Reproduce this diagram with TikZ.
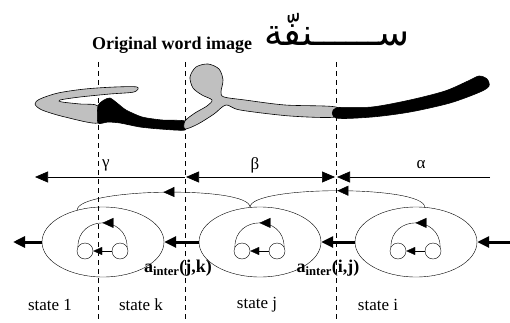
\documentclass[tikz,border=0pt]{standalone}
\usepackage{fontspec}
\setmainfont{Liberation Serif}
\newfontfamily\arabicfont[Script=Arabic]{DejaVu Sans}
\TeXXeTstate=1
\usetikzlibrary{arrows.meta,shapes.geometric,decorations.markings}
\usepackage{xcolor}
\definecolor{inkgray}{HTML}{C0C0C0}

\begin{document}
\begin{tikzpicture}[
  x=1pt, y=-1pt,
  stateell/.style={draw, ellipse, minimum width=122pt, minimum height=70pt, inner sep=0pt},
  loopc/.style={draw, circle, minimum size=16pt, inner sep=0pt},
  bound/.style={dash pattern=on 5pt off 4pt, line width=0.7pt},
  spanarr/.style={line width=0.7pt},
  bigtip/.style={-{Triangle[length=13pt,width=11pt]}},
  thickarr/.style={line width=3pt, -{Triangle[length=12pt,width=11pt]}},
  midarrow/.style={postaction={decorate}, decoration={markings,
    mark=at position 0.5 with {\arrow{Triangle[length=11pt,width=10pt]}}}},
  innerarr/.style={-{Triangle[length=9pt,width=8pt]}},
  ink/.style={draw=black, line width=0.6pt},
  statelbl/.style={font=\fontsize{17}{20}\selectfont},
  translbl/.style={font=\fontsize{18}{20}\selectfont\bfseries, inner sep=0pt},
  greeklbl/.style={font=\fontsize{17}{19}\selectfont}
]
\useasboundingbox (0,0) rectangle (510,323);

% title and the word
\node[font=\fontsize{18}{20}\selectfont\bfseries] (title) at (172,45) {Original word image};
\node[font=\fontsize{37}{40}\arabicfont] (word) at (337,30) {\beginR ســــــنفّة\endR};

% segmentation boundaries
\coordinate (b1top) at (98,62);   \coordinate (b1bot) at (98,323);
\coordinate (b2top) at (185,62);  \coordinate (b2bot) at (185,323);
\coordinate (b3top) at (336,62);  \coordinate (b3bot) at (336,323);
\draw[bound] (b1top) -- (b1bot);
\draw[bound] (b2top) -- (b2bot);
\draw[bound] (b3top) -- (b3bot);

% word image cut into its parts
\filldraw[fill=inkgray, ink] plot[smooth cycle, tension=0.5] coordinates {
  (137,87) (115,87) (85,89) (58,93) (40,99) (35,104) (42,110) (65,117) (98,123)
  (98,106) (80,104) (62,102) (60,100) (80,97) (110,94) (134,92)};
\filldraw[fill=black, ink] plot[smooth cycle, tension=0.4] coordinates {
  (98,106) (104,100) (110,98) (117,103) (126,110) (142,117) (162,120) (185,121)
  (185,130) (160,129) (140,127) (120,123) (108,122) (98,123)};
\filldraw[fill=inkgray, ink] plot[smooth cycle, tension=0.5] coordinates {
  (185,121) (195,113) (207,106) (212,100) (202,95) (193,88) (190,77) (196,67)
  (208,64) (219,69) (223,80) (221,92) (224,97) (245,100) (285,105) (336,107)
  (336,117) (290,116) (240,110) (226,105) (214,114) (198,124) (185,129)};
\filldraw[fill=black, ink] plot[smooth cycle, tension=0.5] coordinates {
  (336,108) (372,107) (410,100) (445,91) (468,81) (479,76) (487,79) (489,86)
  (480,92) (450,103) (410,112) (372,117) (336,118)};

% spans of the parts
\coordinate (gl) at (35,177);  \coordinate (gr) at (185,177);
\coordinate (bl) at (186,177); \coordinate (br) at (335,177);
\coordinate (al) at (337,177); \coordinate (ar) at (490,177);
\draw[spanarr, bigtip] (gr) -- (gl);
\draw[spanarr, {Triangle[length=13pt,width=11pt]}-{Triangle[length=13pt,width=11pt]}] (bl) -- (br);
\draw[spanarr, bigtip] (ar) -- (al);
\node[greeklbl] (gamma) at (106,165) {γ};
\node[greeklbl] (beta) at (255,165) {β};
\node[greeklbl] (alpha) at (421,165) {α};

% states
\node[stateell] (sk) at (103,242) {};
\node[stateell] (sj) at (260,242) {};
\node[stateell] (si) at (416,242) {};

\node[loopc] (k1) at (85,251) {};
\node[loopc] (k2) at (120,251) {};
\node[loopc] (j1) at (242,251) {};
\node[loopc] (j2) at (277,251) {};
\node[loopc] (i1) at (398,251) {};
\node[loopc] (i2) at (433,251) {};

\draw[innerarr] (k2) -- (k1);
\draw[innerarr] (j2) -- (j1);
\draw[innerarr] (i2) -- (i1);
\draw[midarrow] (k2.30) .. controls +(0,-32) and +(0,-32) .. (k1.150);
\draw[midarrow] (j2.30) .. controls +(0,-32) and +(0,-32) .. (j1.150);
\draw[midarrow] (i2.30) .. controls +(0,-32) and +(0,-32) .. (i1.150);

\coordinate (inR) at (510,242);
\coordinate (outL) at (13,242);
\draw[thickarr] (inR) -- (si.east);
\draw[thickarr] (si.west) -- (sj.east);
\draw[thickarr] (sj.west) -- (sk.east);
\draw[thickarr] (sk.west) -- (outL);

\draw[midarrow] (si.76) .. controls +(0,-22) and +(0,-22) .. (sj.106);
\draw[midarrow] (sj.106) .. controls +(0,-22) and +(0,-22) .. (sk.129);

\node[translbl] (ajk) at (178,268) {a\textsubscript{inter}(j,k)};
\node[translbl] (aij) at (328,268) {a\textsubscript{inter}(i,j)};

\node[statelbl] (l1) at (50,305) {state 1};
\node[statelbl] (lk) at (141,305) {state k};
\node[statelbl] (lj) at (257,305) {state j};
\node[statelbl] (li) at (378,305) {state i};

\end{tikzpicture}
\end{document}
